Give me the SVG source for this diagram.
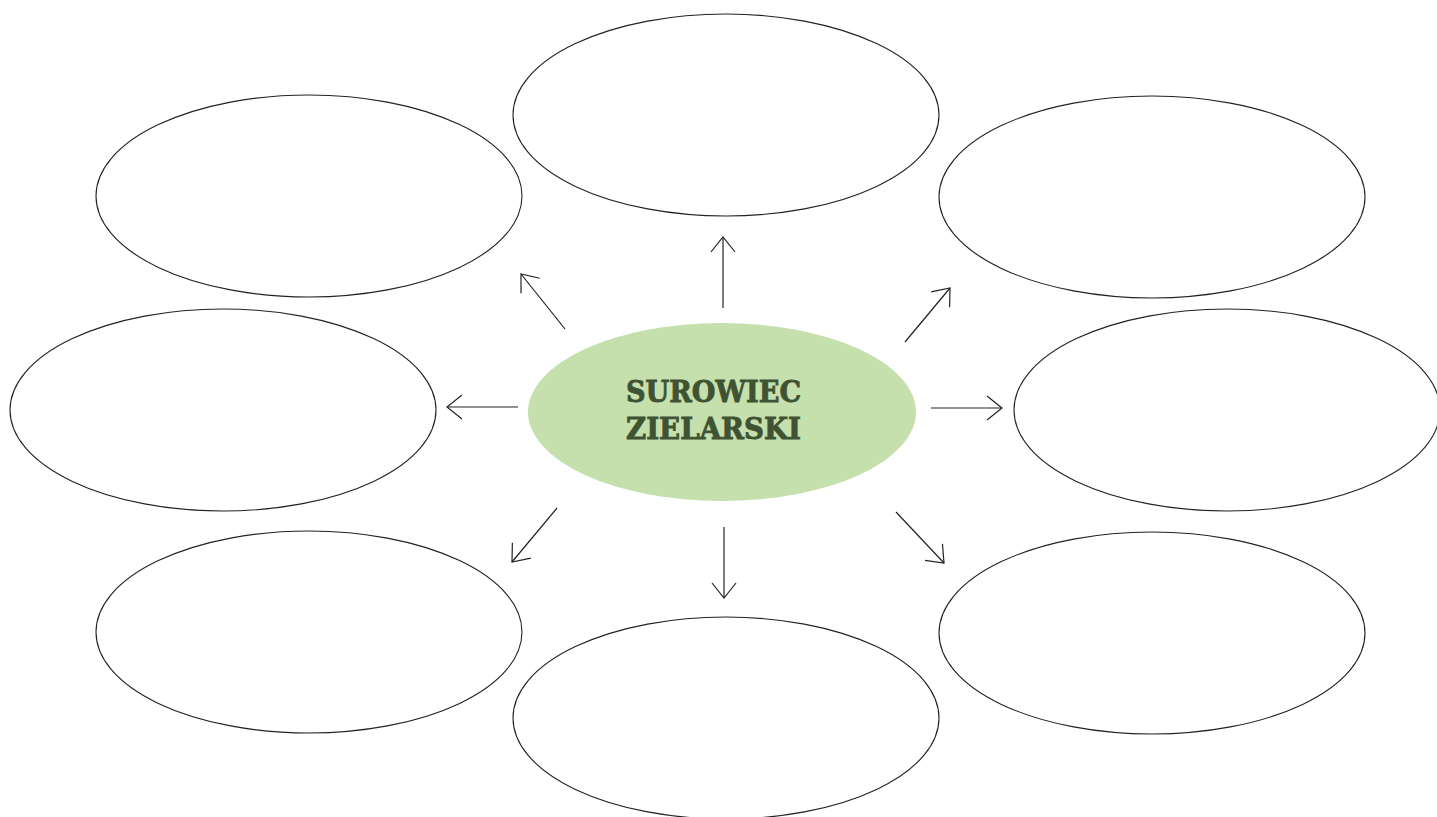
<svg xmlns="http://www.w3.org/2000/svg" width="1437" height="817" viewBox="0 0 1437 817">
<style>
.box{fill:#fff;stroke:#222;stroke-width:1.1}
.core{fill:#c5dfad;stroke:none}
.lbl{font-family:"DejaVu Serif","Liberation Serif",serif;font-weight:bold;font-size:30px;fill:#3f5232;stroke:#3f5232;stroke-width:0.9}
.con{stroke:#222;stroke-width:1.2;fill:none}
</style>
<defs>
<marker id="ah" markerUnits="userSpaceOnUse" markerWidth="40" markerHeight="40" refX="0" refY="0" viewBox="-20 -20 40 40" orient="auto" overflow="visible">
<path d="M-15,-12 L0,0 L-15,12" fill="none" stroke="#222" stroke-width="1.2"/>
</marker>
</defs>
<rect width="1437" height="817" fill="#fff"/>
<g id="n-top"><ellipse class="box" cx="726" cy="115" rx="213" ry="101"/></g>
<g id="n-topleft"><ellipse class="box" cx="309" cy="196" rx="213" ry="101"/></g>
<g id="n-topright"><ellipse class="box" cx="1152" cy="197" rx="213" ry="101"/></g>
<g id="n-left"><ellipse class="box" cx="223" cy="410" rx="213" ry="101"/></g>
<g id="n-right"><ellipse class="box" cx="1227" cy="410" rx="213" ry="101"/></g>
<g id="n-bottomleft"><ellipse class="box" cx="309" cy="632" rx="213" ry="101"/></g>
<g id="n-bottomright"><ellipse class="box" cx="1152" cy="633" rx="213" ry="101"/></g>
<g id="n-bottom"><ellipse class="box" cx="726" cy="718" rx="213" ry="101"/></g>
<g id="n-center">
<ellipse class="core" cx="722" cy="412" rx="194" ry="89"/>
<text class="lbl" x="626" y="402" textLength="175" lengthAdjust="spacingAndGlyphs">SUROWIEC</text>
<text class="lbl" x="626" y="439" textLength="175" lengthAdjust="spacingAndGlyphs">ZIELARSKI</text>
</g>
<g id="connectors">
<line class="con" x1="723" y1="308" x2="723" y2="237" marker-end="url(#ah)"/>
<line class="con" x1="565" y1="329" x2="521" y2="274" marker-end="url(#ah)"/>
<line class="con" x1="905" y1="342" x2="950" y2="288" marker-end="url(#ah)"/>
<line class="con" x1="518" y1="407" x2="447" y2="407" marker-end="url(#ah)"/>
<line class="con" x1="931" y1="408" x2="1002" y2="408" marker-end="url(#ah)"/>
<line class="con" x1="557" y1="508" x2="512" y2="562" marker-end="url(#ah)"/>
<line class="con" x1="724" y1="527" x2="724" y2="598" marker-end="url(#ah)"/>
<line class="con" x1="896" y1="512" x2="944" y2="563" marker-end="url(#ah)"/>
</g>
</svg>
